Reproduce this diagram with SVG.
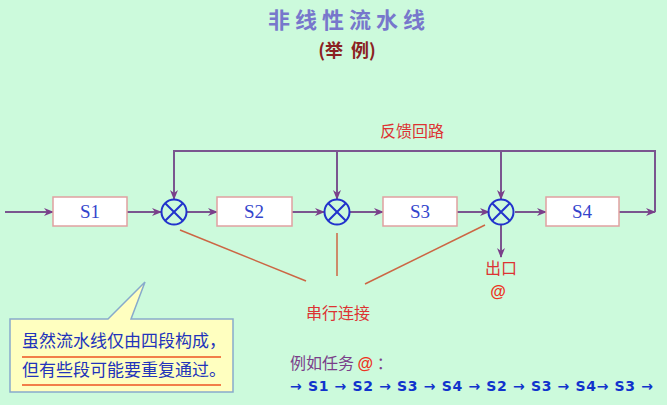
<svg xmlns="http://www.w3.org/2000/svg" width="667" height="405" viewBox="0 0 667 405">
<style>
.box{fill:#ffffff;stroke:#e0a0a0;stroke-width:1.5}
.lbl{font-family:"Liberation Serif",serif;font-size:19px;fill:#3344cc;text-anchor:middle}
.ln{stroke:#7a558f;stroke-width:2;fill:none}
.red{stroke:#cc6644;stroke-width:1.5}
.mul{fill:none;stroke:#2233cc;stroke-width:2}
.cn{font-family:"Noto Sans CJK SC",sans-serif}
</style>
<defs>
<marker id="ar" viewBox="0 0 10 10" refX="9" refY="5" markerWidth="10" markerHeight="10" markerUnits="userSpaceOnUse" orient="auto">
<path d="M0,1 L10,5 L0,9 L3,5 Z" fill="#7a3f8a"/>
</marker>
</defs>
<rect width="667" height="405" fill="#ccfadc"/>
<text x="349" y="28" class="cn" font-size="22" font-weight="bold" fill="#7777cc" text-anchor="middle" letter-spacing="5">非线性流水线</text>
<text x="347" y="57" class="cn" font-size="18" font-weight="bold" fill="#8b2222" text-anchor="middle">(举<tspan dx="8">例)</tspan></text>
<g id="connectors">
<line class="ln" x1="5" y1="212" x2="53" y2="212" marker-end="url(#ar)"/>
<line class="ln" x1="127" y1="212" x2="161" y2="212" marker-end="url(#ar)"/>
<line class="ln" x1="187" y1="212" x2="217" y2="212" marker-end="url(#ar)"/>
<line class="ln" x1="292" y1="212" x2="324" y2="212" marker-end="url(#ar)"/>
<line class="ln" x1="350" y1="212" x2="383" y2="212" marker-end="url(#ar)"/>
<line class="ln" x1="457" y1="212" x2="489" y2="212" marker-end="url(#ar)"/>
<line class="ln" x1="515" y1="212" x2="546" y2="212" marker-end="url(#ar)"/>
<line class="ln" x1="619" y1="212" x2="655" y2="212" marker-end="url(#ar)"/>
<polyline class="ln" points="655,212 655,151 173,151"/>
<line class="ln" x1="174" y1="151" x2="174" y2="199" marker-end="url(#ar)"/>
<line class="ln" x1="337" y1="151" x2="337" y2="199" marker-end="url(#ar)"/>
<line class="ln" x1="501" y1="151" x2="501" y2="199" marker-end="url(#ar)"/>
<line class="ln" x1="501" y1="225" x2="501" y2="257" marker-end="url(#ar)"/>
<line class="red" x1="180" y1="230" x2="306" y2="281"/>
<line class="red" x1="337" y1="233" x2="337" y2="276"/>
<line class="red" x1="485" y1="225" x2="365" y2="284"/>
</g>
<g id="S1"><rect class="box" x="53" y="197" width="74" height="29"/><text class="lbl" x="90" y="218">S1</text></g>
<g id="S2"><rect class="box" x="217" y="197" width="75" height="29"/><text class="lbl" x="254" y="218">S2</text></g>
<g id="S3"><rect class="box" x="383" y="197" width="74" height="29"/><text class="lbl" x="420" y="218">S3</text></g>
<g id="S4"><rect class="box" x="546" y="197" width="73" height="29"/><text class="lbl" x="582" y="218">S4</text></g>
<g id="M1"><circle class="mul" cx="174" cy="212" r="12.5"/><path class="mul" stroke-width="1.5" d="M165.2,203.2 L182.8,220.8 M182.8,203.2 L165.2,220.8"/></g>
<g id="M2"><circle class="mul" cx="337" cy="212" r="12.5"/><path class="mul" stroke-width="1.5" d="M328.2,203.2 L345.8,220.8 M345.8,203.2 L328.2,220.8"/></g>
<g id="M3"><circle class="mul" cx="501" cy="212" r="12.5"/><path class="mul" stroke-width="1.5" d="M492.2,203.2 L509.8,220.8 M509.8,203.2 L492.2,220.8"/></g>
<text x="412" y="137" class="cn" font-size="16" fill="#dd3333" text-anchor="middle">反馈回路</text>
<text x="501" y="274" class="cn" font-size="16" fill="#dd3333" text-anchor="middle">出口</text>
<text x="498" y="297" font-family="Liberation Sans,sans-serif" font-size="16" font-weight="bold" fill="#ee3322" text-anchor="middle">@</text>
<text x="338" y="319" class="cn" font-size="16" fill="#dd3333" text-anchor="middle">串行连接</text>
<g id="callout">
<path d="M10,319 L108,319 L145,282 L131,319 L233,319 L233,392 L10,392 Z" fill="#ffffc0" stroke="#88aacc" stroke-width="1.5"/>
<text x="22" y="347" class="cn" font-size="17" fill="#2233bb">虽然流水线仅由四段构成，</text>
<line x1="22" y1="357" x2="221" y2="357" stroke="#ee5522" stroke-width="1.5"/>
<text x="22" y="376" class="cn" font-size="17" fill="#2233bb">但有些段可能要重复通过。</text>
<line x1="22" y1="385" x2="221" y2="385" stroke="#ee5522" stroke-width="1.5"/>
</g>
<text x="290" y="369" class="cn" font-size="16" fill="#7a3f8a">例如任务 <tspan fill="#ee3322" font-family="Liberation Sans,sans-serif" font-weight="bold">@</tspan> ：</text>
<text x="290" y="391" font-family="DejaVu Sans,sans-serif" font-size="14" font-weight="bold" fill="#1133cc" textLength="363" lengthAdjust="spacing">→ S1 → S2 → S3 → S4 → S2 → S3 → S4→ S3 →</text>
</svg>
